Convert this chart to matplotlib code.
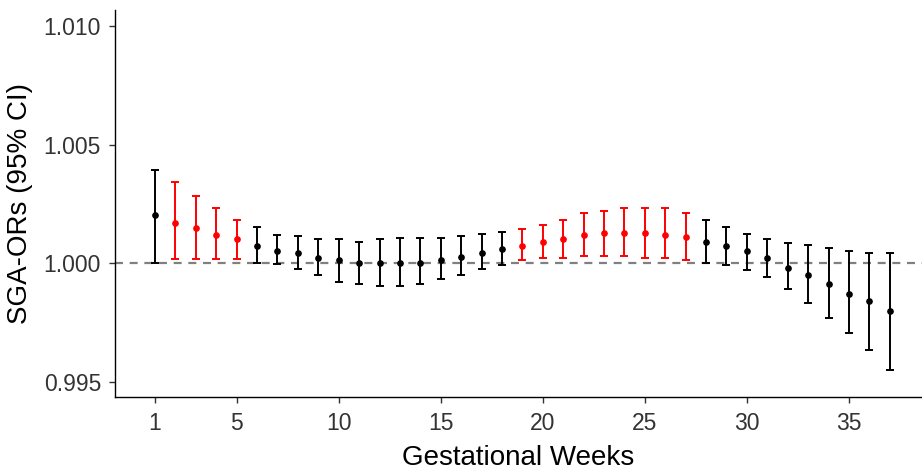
import matplotlib
matplotlib.use("Agg")
import matplotlib.pyplot as plt
import numpy as np

plt.rcParams['font.family'] = ['Liberation Sans', 'DejaVu Sans']

weeks = list(range(1, 38))
odds_ratio = [1.00202, 1.00171, 1.00150, 1.00119, 1.00104, 1.00073, 1.00052, 1.00042, 1.00021, 1.00014,
              1.00000, 1.00000, 1.00000, 1.00000, 1.00013, 1.00028, 1.00042, 1.00062, 1.00073, 1.00090,
              1.00104, 1.00121, 1.00129, 1.00129, 1.00129, 1.00121, 1.00111, 1.00090, 1.00073, 1.00052,
              1.00021, 0.99982, 0.99951, 0.99912, 0.99869, 0.99839, 0.99799]
ci_lower = [1.00000, 1.00017, 1.00017, 1.00017, 1.00017, 1.00000, 0.99995, 0.99976, 0.99952, 0.99923,
            0.99913, 0.99902, 0.99902, 0.99913, 0.99933, 0.99952, 0.99975, 0.99992, 1.00014, 1.00022,
            1.00022, 1.00031, 1.00031, 1.00031, 1.00022, 1.00022, 1.00013, 1.00002, 0.99993, 0.99973,
            0.99944, 0.99893, 0.99832, 0.99771, 0.99704, 0.99635, 0.99551]
ci_upper = [1.00393, 1.00341, 1.00282, 1.00235, 1.00182, 1.00153, 1.00121, 1.00114, 1.00104, 1.00104,
            1.00091, 1.00104, 1.00105, 1.00105, 1.00105, 1.00115, 1.00122, 1.00132, 1.00143, 1.00160,
            1.00182, 1.00213, 1.00220, 1.00235, 1.00235, 1.00235, 1.00211, 1.00182, 1.00155, 1.00122,
            1.00104, 1.00084, 1.00076, 1.00063, 1.00052, 1.00045, 1.00045]
significant = [False, True, True, True, True, False, False, False, False, False,
               False, False, False, False, False, False, False, False, True, True,
               True, True, True, True, True, True, True, False, False, False,
               False, False, False, False, False, False, False]
x_ticks = [1, 5, 10, 15, 20, 25, 30, 35]
y_ticks = [0.995, 1.000, 1.005, 1.010]

fig = plt.figure(figsize=(9.22, 4.70), dpi=100)
ax = fig.add_axes([115/922, (470-397)/470, (922-115)/922, 387/470])

ax.axhline(1.0, color='#808080', lw=1.6, linestyle=(0, (3.6, 3.0)), zorder=1)

for w, m, lo, hi, sig in zip(weeks, odds_ratio, ci_lower, ci_upper, significant):
    c = '#FF0000' if sig else 'black'
    ax.errorbar([w], [m], yerr=[[m - lo], [hi - m]], fmt='o', color=c, ecolor=c,
                elinewidth=1.4, capsize=2.7, capthick=1.4, markersize=3.8, zorder=3)

ax.set_xlim(-0.96, 38.58)
ax.set_ylim(0.99436, 1.01068)
ax.set_xticks(x_ticks)
ax.set_xticklabels([str(t) for t in x_ticks])
ax.set_yticks(y_ticks)
ax.set_yticklabels([f"{t:.3f}" for t in y_ticks])

for s in ['top', 'right']:
    ax.spines[s].set_visible(False)
for s in ['left', 'bottom']:
    ax.spines[s].set_linewidth(1.0)
    ax.spines[s].set_color('black')

ax.tick_params(axis='both', length=4, width=1.0, color='#333333', labelsize=16.5,
               labelcolor='#333333')
ax.tick_params(axis='x', pad=7)
ax.tick_params(axis='y', pad=6)

ax.set_xlabel('Gestational Weeks', fontsize=20, color='black', labelpad=7)
ax.set_ylabel('SGA-ORs (95% CI)', fontsize=20, color='black', labelpad=8)

fig.savefig('out.png', dpi=100)
